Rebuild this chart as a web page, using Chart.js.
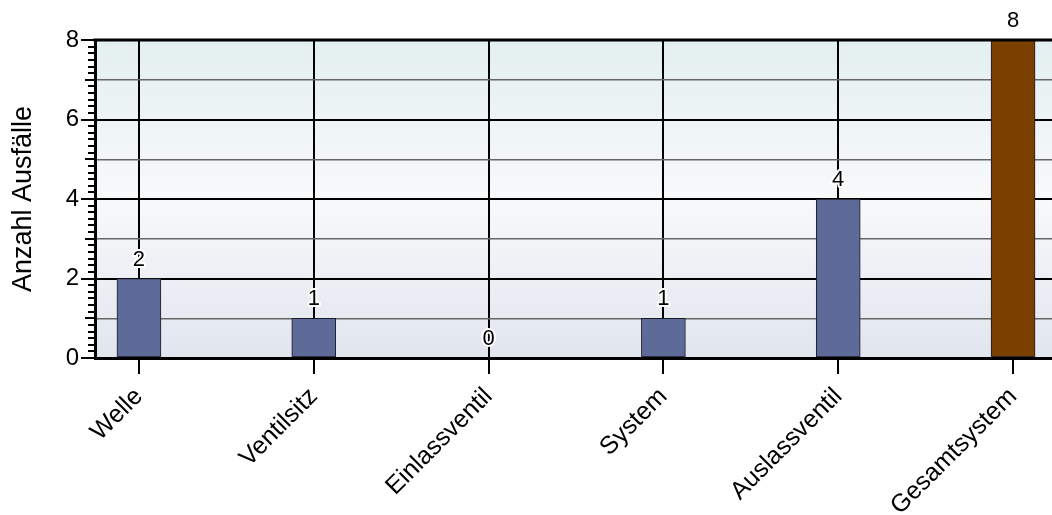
<!DOCTYPE html>
<html>
<head>
<meta charset="utf-8">
<script src="https://cdn.jsdelivr.net/npm/chart.js@4/dist/chart.umd.min.js"></script>
<style>
  html, body { margin: 0; padding: 0; background: #fff; }
  #chart { display: block; }
</style>
</head>
<body>
<canvas id="chart" width="1052" height="515"></canvas>
<script>
// Ausfälle je Komponente
const categories = ['Welle', 'Ventilsitz', 'Einlassventil', 'System', 'Auslassventil', 'Gesamtsystem'];
const failures = [2, 1, 0, 1, 4, 8];
const barColors = ['#5e6a97', '#5e6a97', '#5e6a97', '#5e6a97', '#5e6a97', '#7b3f00'];
const yTicks = [0, 2, 4, 6, 8];

const FONT = 'Arial, "Liberation Sans", sans-serif';

// Hintergrund-Verlauf der Zeichenfläche
const plotBackground = {
    id: 'plotBackground',
    beforeDraw(chart) {
        const { ctx, chartArea: a } = chart;
        const g = ctx.createLinearGradient(0, a.top, 0, a.bottom);
        g.addColorStop(0, '#e3eff0');
        g.addColorStop(0.5, '#f8f9fb');
        g.addColorStop(1, '#e1e5ee');
        ctx.save();
        ctx.fillStyle = g;
        ctx.fillRect(a.left, a.top, a.right - a.left, a.bottom - a.top);
        ctx.restore();
    }
};

// Rahmen oben und Teilstriche an der y-Achse
const axisDecor = {
    id: 'axisDecor',
    afterDraw(chart) {
        const { ctx, chartArea: a } = chart;
        const y = chart.scales.y;
        ctx.save();
        ctx.strokeStyle = '#000';
        ctx.lineWidth = 3;
        ctx.beginPath();
        ctx.moveTo(a.left - 1.5, a.top);
        ctx.lineTo(a.right, a.top);
        ctx.stroke();
        ctx.lineWidth = 2;
        for (let i = 0; i <= 48; i++) {
            const v = i / 6;
            const py = Math.round(y.getPixelForValue(v));
            let len = 7;
            if (i % 12 === 0) len = 14;
            else if (i % 6 === 0) len = 10;
            ctx.beginPath();
            ctx.moveTo(a.left - len, py);
            ctx.lineTo(a.left, py);
            ctx.stroke();
        }
        ctx.restore();
    }
};

// Werte über den Balken
const valueLabels = {
    id: 'valueLabels',
    afterDatasetsDraw(chart) {
        const { ctx } = chart;
        const meta = chart.getDatasetMeta(0);
        ctx.save();
        ctx.font = '22px ' + FONT;
        ctx.textAlign = 'center';
        ctx.textBaseline = 'bottom';
        ctx.lineJoin = 'round';
        meta.data.forEach((bar, i) => {
            const txt = String(failures[i]);
            const tx = bar.x;
            const ty = bar.y - 8;
            ctx.strokeStyle = '#fff';
            ctx.lineWidth = 4;
            ctx.strokeText(txt, tx, ty);
            ctx.fillStyle = '#000';
            ctx.fillText(txt, tx, ty);
        });
        ctx.restore();
    }
};

new Chart(document.getElementById('chart'), {
    type: 'bar',
    data: {
        datasets: [{
            data: failures.map((v, i) => ({ x: i, y: v })),
            backgroundColor: barColors,
            borderColor: '#1b1b28',
            borderWidth: 1,
            borderSkipped: false,
            barThickness: 44
        }]
    },
    options: {
        responsive: false,
        animation: false,
        layout: { padding: { top: 40, right: 0, left: 0, bottom: 0 } },
        plugins: {
            legend: { display: false },
            tooltip: { enabled: false }
        },
        scales: {
            x: {
                type: 'linear',
                offset: false,
                min: -0.2514,
                max: 5.2229,
                afterBuildTicks(scale) {
                    scale.ticks = categories.map((c, i) => ({ value: i }));
                },
                afterFit(scale) { scale.height = 157; },
                grid: {
                    offset: false,
                    color: '#000',
                    lineWidth: 2,
                    drawTicks: true,
                    tickLength: 16,
                    tickColor: '#000'
                },
                border: { display: true, color: '#000', width: 3 },
                ticks: {
                    autoSkip: false,
                    minRotation: 45,
                    maxRotation: 45,
                    padding: 8,
                    color: '#000',
                    font: { family: FONT, size: 25 },
                    callback: (v) => categories[v]
                }
            },
            y: {
                min: 0,
                max: 8,
                afterBuildTicks(scale) {
                    scale.ticks = [0, 1, 2, 3, 4, 5, 6, 7, 8].map(v => ({ value: v }));
                },
                afterFit(scale) { scale.width = 95; },
                grid: {
                    drawTicks: false,
                    color: (c) => c.tick.value % 2 === 0 ? '#000' : '#666',
                    lineWidth: (c) => c.tick.value % 2 === 0 ? 2 : 1.5
                },
                border: { display: true, color: '#000', width: 3 },
                ticks: {
                    padding: 16,
                    color: '#000',
                    font: { family: FONT, size: 24 },
                    callback: (v) => yTicks.includes(v) ? String(v) : ''
                },
                title: {
                    display: true,
                    text: 'Anzahl Ausfälle',
                    color: '#000',
                    font: { family: FONT, size: 27 },
                    padding: { top: 7, bottom: 0 }
                }
            }
        }
    },
    plugins: [plotBackground, axisDecor, valueLabels]
});
</script>
</body>
</html>
